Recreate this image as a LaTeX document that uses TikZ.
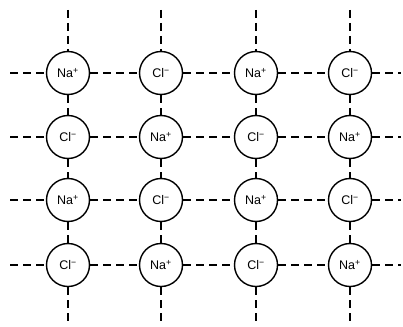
\documentclass[tikz,border=0pt]{standalone}
\usepackage{fontspec}
\setmainfont{Liberation Sans}
\usetikzlibrary{calc}

\begin{document}
\begin{tikzpicture}[x=1pt,y=-1pt,
    ion/.style={circle, draw, line width=1.4pt, minimum size=43pt, inner sep=0pt,
        font=\fontsize{12.5}{12.5}\selectfont},
    bond/.style={line width=1.3pt, dash pattern=on 8pt off 5pt}]
            \useasboundingbox (0,0) rectangle (403,326);
            % ions, row by row
            \node[ion] (Na0) at (68,73) {Na\textsuperscript{+}};
            \node[ion] (Cl0) at (161,73) {Cl\textsuperscript{−}};
            \node[ion] (Na1) at (256,73) {Na\textsuperscript{+}};
            \node[ion] (Cl1) at (350,73) {Cl\textsuperscript{−}};
            \node[ion] (Cl2) at (68,137) {Cl\textsuperscript{−}};
            \node[ion] (Na2) at (161,137) {Na\textsuperscript{+}};
            \node[ion] (Cl3) at (256,137) {Cl\textsuperscript{−}};
            \node[ion] (Na3) at (350,137) {Na\textsuperscript{+}};
            \node[ion] (Na4) at (68,200) {Na\textsuperscript{+}};
            \node[ion] (Cl4) at (161,200) {Cl\textsuperscript{−}};
            \node[ion] (Na5) at (256,200) {Na\textsuperscript{+}};
            \node[ion] (Cl5) at (350,200) {Cl\textsuperscript{−}};
            \node[ion] (Cl6) at (68,265) {Cl\textsuperscript{−}};
            \node[ion] (Na6) at (161,265) {Na\textsuperscript{+}};
            \node[ion] (Cl7) at (256,265) {Cl\textsuperscript{−}};
            \node[ion] (Na7) at (350,265) {Na\textsuperscript{+}};
            % loose ends of the lattice
            \coordinate (L0) at (10,73);
            \coordinate (L1) at (10,137);
            \coordinate (L2) at (10,200);
            \coordinate (L3) at (10,265);
            \coordinate (R0) at (401,73);
            \coordinate (R1) at (401,137);
            \coordinate (R2) at (401,200);
            \coordinate (R3) at (401,265);
            \coordinate (T0) at (68,10);
            \coordinate (T1) at (161,10);
            \coordinate (T2) at (256,10);
            \coordinate (T3) at (350,10);
            \coordinate (B0) at (68,326);
            \coordinate (B1) at (161,326);
            \coordinate (B2) at (256,326);
            \coordinate (B3) at (350,326);
            % rows
            \draw[bond] (L0) -- (Na0) -- (Cl0) -- (Na1) -- (Cl1) -- (R0);
            \draw[bond] (L1) -- (Cl2) -- (Na2) -- (Cl3) -- (Na3) -- (R1);
            \draw[bond] (L2) -- (Na4) -- (Cl4) -- (Na5) -- (Cl5) -- (R2);
            \draw[bond] (L3) -- (Cl6) -- (Na6) -- (Cl7) -- (Na7) -- (R3);
            % columns
            \draw[bond] (T0) -- (Na0) -- (Cl2) -- (Na4) -- (Cl6) -- (B0);
            \draw[bond] (T1) -- (Cl0) -- (Na2) -- (Cl4) -- (Na6) -- (B1);
            \draw[bond] (T2) -- (Na1) -- (Cl3) -- (Na5) -- (Cl7) -- (B2);
            \draw[bond] (T3) -- (Cl1) -- (Na3) -- (Cl5) -- (Na7) -- (B3);
        \end{tikzpicture}
\end{document}
